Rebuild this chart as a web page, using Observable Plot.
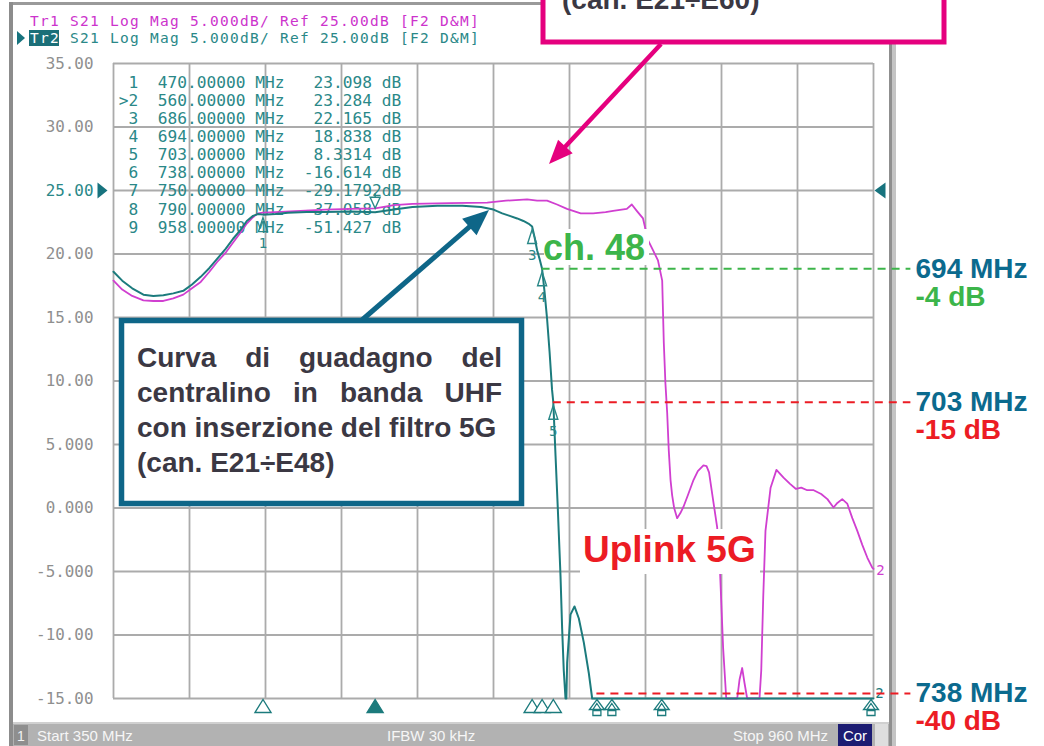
<!DOCTYPE html>
<html><head><meta charset="utf-8">
<script src="https://cdn.jsdelivr.net/npm/d3@7"></script>
<script src="https://cdn.jsdelivr.net/npm/@observablehq/plot@0.6"></script>
<style>
html,body{margin:0;padding:0;background:#fff;}
#chart{width:1044px;height:746px;overflow:hidden;position:relative;}
svg text, svg tspan{white-space:pre;}
</style></head><body><div id="chart"></div>
<script>
// ---------- DATA ----------
const tr1Freq = [350,357,365,374,382,390,398,406,413,420,427,433,440,446,452,457,462,466,470,480,500,520,540,560,575,590,620,650,665,682,690,698,706,714,725,735,745,751,762,766,770,775,779,783,787,790.4,791.7,793,794.4,795.7,797.1,798.4,800,802.4,805,807.5,811,815.5,819,823.5,826,828,831.3,834.5,836.9,839.3,841.8,850.6,852.5,854.6,856.5,858.6,868.5,869.9,871.5,873.3,877.4,882.1,887.8,893,897.8,902,906.8,912,918,923,927.9,931,934.9,938.9,943,947,951,955,959,960];
const tr1Db   = [17.9,17.2,16.7,16.35,16.3,16.3,16.5,16.8,17.3,17.8,18.6,19.35,20.1,20.9,21.7,22.4,22.9,23.2,23.25,23.3,23.4,23.5,23.55,23.6,23.85,23.95,24.0,24.05,24.2,24.3,24.2,24.2,23.9,23.55,23.2,23.2,23.3,23.4,23.55,23.9,23.4,22.8,21.1,20.3,19.5,17.9,13.0,9.8,7.5,4.5,2.2,1.0,0.0,-0.8,-0.4,0.1,1.0,2.2,2.9,3.35,3.3,2.8,0.6,-1.5,-5.2,-11,-15,-15,-13.5,-12.6,-13.8,-15,-15,-12.8,-7.0,-1.8,1.6,3.0,2.4,1.9,1.5,1.6,1.4,1.4,1.1,0.7,0.04,0.4,0.7,0.35,-0.8,-1.8,-2.9,-3.9,-4.7,-4.8];
const tr2Freq = [350,357,365,374,382,390,398,406,413,420,427,433,440,446,452,457,462,466,470,480,490,505,520,540,560,575,590,610,630,645,655,662,668,674,679,683,686,688,690,692,694,696,698,700,702,703,704.8,706.6,708.8,710.1,711.4,712.8,713.5,714.1,716.8,720,723.5,727.5,731.5,734.2,960];
const tr2Db   = [18.6,17.9,17.3,16.8,16.7,16.75,16.9,17.1,17.6,18.2,18.9,19.6,20.4,21.2,21.9,22.6,23.0,23.15,23.1,23.15,23.25,23.3,23.3,23.35,23.28,23.5,23.7,23.8,23.8,23.7,23.5,23.2,23.0,22.8,22.6,22.4,22.17,21.3,20.3,19.6,18.84,17.0,14.9,12.3,9.3,8.33,4.1,0.0,-5.4,-9.5,-12.8,-15,-15,-12.2,-8.4,-7.75,-8.7,-10.6,-13.0,-15,-15];

const markerNum   = [1,2,3,4,5,6,7,8,9];
const markerFreq  = [470,560,686,694,703,738,750,790,958];
const markerDb    = [23.098,23.284,22.165,18.838,8.3314,-16.614,-29.1792,-37.058,-51.427];
const markerDbTxt = ["23.098","23.284","22.165","18.838","8.3314","-16.614","-29.1792","-37.058","-51.427"];
const activeMarker = 2;

const yTicks      = [35,30,25,20,15,10,5,0,-5,-10,-15];
const yTickLabels = ["35.00","30.00","25.00","20.00","15.00","10.00","5.000","0.000","-5.000","-10.00","-15.00"];
const xGrid       = [350,411,472,533,594,655,716,777,838,899,960];
const refValue    = 25;

const refFreq  = [694,703,738];
const refLevel = [18.838,8.3314,-14.6];
const refAtten = ["-4 dB","-15 dB","-40 dB"];

const headerTr1 = "Tr1 S21 Log Mag 5.000dB/ Ref 25.00dB [F2 D&M]";
const headerTr2a = "Tr2";
const headerTr2b = " S21 Log Mag 5.000dB/ Ref 25.00dB [F2 D&M]";
const statusTexts = ["Start 350 MHz","IFBW 30 kHz","Stop 960 MHz"];
const boxBlueLines = [["Curva","di","guadagno","del"],["centralino","in","banda","UHF"],["con inserzione del filtro 5G"],["(can. E21÷E48)"]];
const boxPinkText = "(can. E21÷E60)";

// ---------- STYLE ----------
const C = {tr1:"#d03fd0", tr2:"#1c7b7d", grid:"#ababab", axis:"#8f8f8f", teal:"#2a8888",
  pink:"#e5007e", blue:"#0e6688", dark:"#3b3843", green:"#3cb54a", red:"#ec1c24", mhz:"#0b6a8e"};
const mono = "DejaVu Sans Mono, Liberation Mono, monospace";
const sans = "Liberation Sans, Arial, Helvetica, sans-serif";
const W=1044,H=746,ML=113,MR=171,MT=63,MB=48;

const tr1 = tr1Freq.map((f,i)=>({f, db:tr1Db[i]}));
const tr2 = tr2Freq.map((f,i)=>({f, db:tr2Db[i]}));
const mk = markerNum.map((n,i)=>({n, f:markerFreq[i], db:markerDb[i], txt:markerDbTxt[i], active:n===activeMarker}));
const inRange = mk.filter(d=>d.db>=-15);
const offScale = mk.filter(d=>d.db<-15);
const tableText = mk.map(d=>`${d.active?">":" "}${d.n}  ${d.f.toFixed(5)} MHz  ${d.txt.padStart(7)}${d.txt.length>7?"":" "}dB`).join("\n");
const yRows = yTicks.map((v,i)=>({v, label:yTickLabels[i]}));
const refRows = refFreq.map((f,i)=>({f, level:refLevel[i], att:refAtten[i], color:i===0?C.green:C.red}));

// custom symbols (apex at data point)
const symTall = {draw(c){c.moveTo(0,3);c.lineTo(4.5,17);c.lineTo(-4.5,17);c.closePath();}};
const symDown = {draw(c){c.moveTo(0,-4);c.lineTo(5,-15);c.lineTo(-5,-15);c.closePath();c.moveTo(0,-15);c.lineTo(0,-19);}};
const symBottom = {draw(c){c.moveTo(0,1);c.lineTo(8,14);c.lineTo(-8,14);c.closePath();}};
const symOff = {draw(c){c.moveTo(0,1);c.lineTo(7.5,11);c.lineTo(-7.5,11);c.closePath();c.moveTo(0,5);c.lineTo(4,11);c.lineTo(-4,11);c.closePath();c.rect(-4,12,8,5);}};
const symRight = {draw(c){c.moveTo(-16,-8);c.lineTo(-6,0);c.lineTo(-16,8);c.closePath();}};
const symLeft = {draw(c){c.moveTo(1,0);c.lineTo(12,-8);c.lineTo(12,8);c.closePath();}};

const plot = Plot.plot({
  width:W, height:H, marginLeft:ML, marginRight:MR, marginTop:MT, marginBottom:MB,
  x:{domain:[350,960], axis:null}, y:{domain:[-15,35], axis:null},
  color:{type:"identity"},
  style:{background:"transparent"},
  marks:[
    Plot.ruleY(yTicks, {stroke:C.grid, strokeWidth:1.8}),
    Plot.ruleX(xGrid, {stroke:C.grid, strokeWidth:1.8}),
    Plot.text(yRows.filter(d=>d.v!==refValue), {y:"v", text:"label", frameAnchor:"left", dx:-20, textAnchor:"end", fill:C.axis, fontFamily:mono, fontSize:15.9}),
    Plot.text(yRows.filter(d=>d.v===refValue), {y:"v", text:"label", frameAnchor:"left", dx:-20, textAnchor:"end", fill:C.teal, fontFamily:mono, fontSize:15.9}),
    Plot.dot([refValue], {y:d=>d, frameAnchor:"left", symbol:symRight, fill:"#17737e", stroke:"none"}),
    Plot.dot([refValue], {y:d=>d, frameAnchor:"right", symbol:symLeft, fill:"#17737e", stroke:"none"}),
    Plot.text([tableText], {text:d=>d, frameAnchor:"top-left", dx:5.2, dy:11.5, lineAnchor:"top", textAnchor:"start", lineHeight:1.117, fill:C.teal, fontFamily:mono, fontSize:16.2}),
    Plot.line(tr1, {x:"f", y:"db", stroke:C.tr1, strokeWidth:1.8}),
    Plot.line(tr2, {x:"f", y:"db", stroke:C.tr2, strokeWidth:2}),
    Plot.dot(inRange.filter(d=>!d.active), {x:"f", y:"db", symbol:symTall, fill:"none", stroke:C.teal, strokeWidth:1.4}),
    Plot.text(inRange.filter(d=>!d.active), {x:"f", y:"db", text:d=>String(d.n), dy:29, fill:C.teal, fontFamily:mono, fontSize:14}),
    Plot.dot(inRange.filter(d=>d.active), {x:"f", y:"db", symbol:symDown, fill:"none", stroke:C.teal, strokeWidth:1.4}),
    Plot.dot(inRange, {x:"f", frameAnchor:"bottom", symbol:symBottom, fill:d=>d.active?C.tr2:"white", stroke:C.tr2, strokeWidth:1.4}),
    Plot.dot(offScale, {x:"f", frameAnchor:"bottom", symbol:symOff, fill:"white", stroke:C.tr2, strokeWidth:1.3}),
    Plot.text([tr1[tr1.length-1]], {x:"f", y:"db", text:()=> "2", dx:7, dy:2, fill:C.tr1, fontFamily:mono, fontSize:14}),
    Plot.text([tr2[tr2.length-1]], {x:"f", y:"db", text:()=> "2", dx:6, dy:-5, fill:C.tr2, fontFamily:mono, fontSize:14}),
    Plot.ruleY(refRows, {y:"level", x1:"f", x2:()=>990, stroke:"color", strokeWidth:2, strokeDasharray:"8,6"}),
    Plot.text(refRows, {y:"level", text:d=>`${d.f} MHz`, frameAnchor:"right", dx:42, textAnchor:"start", fill:C.mhz, fontFamily:sans, fontWeight:"bold", fontSize:28}),
    Plot.text(refRows, {y:"level", text:"att", frameAnchor:"right", dx:42, dy:28, textAnchor:"start", fill:"color", fontFamily:sans, fontWeight:"bold", fontSize:28})
  ]
});
document.getElementById("chart").append(plot);
const svg = d3.select(plot);

// ---------- instrument frame (behind) ----------
const bg = svg.insert("g", ":first-child").attr("text-anchor","start");
bg.append("rect").attr("x",0).attr("y",0).attr("width",W).attr("height",H).attr("fill","white");
bg.append("rect").attr("x",9).attr("y",2).attr("width",886).attr("height",3).attr("fill","#9a9a9a");
bg.append("rect").attr("x",9).attr("y",2).attr("width",4).attr("height",744).attr("fill","#8c8c8c");
bg.append("rect").attr("x",889).attr("y",2).attr("width",3).attr("height",744).attr("fill","#8f8f8f");
bg.append("rect").attr("x",892).attr("y",2).attr("width",4).attr("height",744).attr("fill","#c4c4c4");
// headers
const hdrStyle = t => t.attr("font-family",mono).attr("font-size",14.5).attr("letter-spacing","1.27px").attr("text-anchor","start");
bg.append("text").attr("x",30).attr("y",26).attr("fill","#cc33cc").text(headerTr1).call(hdrStyle);
bg.append("path").attr("d","M17,31 L25,38 L17,45 Z").attr("fill","#17737e");
bg.append("rect").attr("x",29).attr("y",30).attr("width",30).attr("height",16).attr("fill","#1b6f78");
const h2 = bg.append("text").attr("x",30).attr("y",43).call(hdrStyle);
h2.append("tspan").attr("fill","white").text(headerTr2a);
h2.append("tspan").attr("fill",C.teal).text(headerTr2b);
// status bar
bg.append("rect").attr("x",13).attr("y",722).attr("width",876).attr("height",24).attr("fill","#b2b2b2");
bg.append("rect").attr("x",13).attr("y",722).attr("width",876).attr("height",2).attr("fill","#d0d0d0");
bg.append("rect").attr("x",14).attr("y",725).attr("width",14).attr("height",20).attr("fill","#8e8e8e");
bg.append("text").attr("x",21).attr("y",741).attr("text-anchor","middle").attr("fill","#f2f2f2").attr("font-family",sans).attr("font-size",14).text("1");
const stX = [37,387,828], stA = ["start","start","end"];
statusTexts.forEach((s,i)=>bg.append("text").attr("x",stX[i]).attr("y",741).attr("text-anchor",stA[i]).attr("fill","#f6f6f6").attr("font-family",sans).attr("font-size",15).text(s));
bg.append("rect").attr("x",838).attr("y",724).attr("width",34).attr("height",22).attr("fill","#1c1c72");
bg.append("text").attr("x",855).attr("y",741).attr("text-anchor","middle").attr("fill","white").attr("font-family",sans).attr("font-size",15).text("Cor");
bg.append("rect").attr("x",875).attr("y",724).attr("width",13).attr("height",22).attr("fill","#dedede");

// ---------- annotations (on top) ----------
const ov = svg.append("g").attr("text-anchor","start");
function arrow(x0,y0,x1,y1,color,w,hl,hw){
  const L=Math.hypot(x1-x0,y1-y0), ux=(x1-x0)/L, uy=(y1-y0)/L;
  const bx=x1-ux*hl, by=y1-uy*hl;
  ov.append("line").attr("x1",x0).attr("y1",y0).attr("x2",bx+ux*2).attr("y2",by+uy*2).attr("stroke",color).attr("stroke-width",w);
  ov.append("path").attr("d",`M${x1},${y1}L${bx-uy*hw},${by+ux*hw}L${bx+uy*hw},${by-ux*hw}Z`).attr("fill",color);
}
const bold = (t,size,color)=>t.attr("font-family",sans).attr("font-weight","bold").attr("font-size",size).attr("fill",color).attr("text-anchor","start");
// ch. 48
ov.append("rect").attr("x",544).attr("y",229).attr("width",105).attr("height",36).attr("fill","white");
ov.append("text").attr("x",543).attr("y",260).text("ch. 48").call(bold,36,C.green);
// Uplink 5G
ov.append("rect").attr("x",580).attr("y",529).attr("width",180).attr("height",45).attr("fill","white");
ov.append("text").attr("x",583).attr("y",562).text("Uplink 5G").call(bold,37,C.red);
// pink box + arrow
ov.append("rect").attr("x",543).attr("y",-20).attr("width",401).attr("height",62).attr("fill","white").attr("stroke",C.pink).attr("stroke-width",5);
ov.append("text").attr("x",562).attr("y",9).text(boxPinkText).call(bold,28,C.dark);
arrow(661,44,549,164,C.pink,4.5,24,10);
// blue box + arrow
ov.append("rect").attr("x",121.5).attr("y",320.5).attr("width",400).attr("height",183).attr("fill","white").attr("stroke",C.blue).attr("stroke-width",5.5);
arrow(362,320,489,210,C.blue,5,26,11);
const bl = [367,402,437,472];
boxBlueLines.forEach((words,li)=>{
  const nodes = words.map(w=>ov.append("text").attr("y",bl[li]).text(w).call(bold,28,C.dark));
  if (words.length===1){ nodes[0].attr("x",137); return; }
  const widths = nodes.map(n=>n.node().getComputedTextLength());
  const gap = (502-137-d3.sum(widths))/(words.length-1);
  let x=137; nodes.forEach((n,i)=>{n.attr("x",x); x+=widths[i]+gap;});
});
</script></body></html>
